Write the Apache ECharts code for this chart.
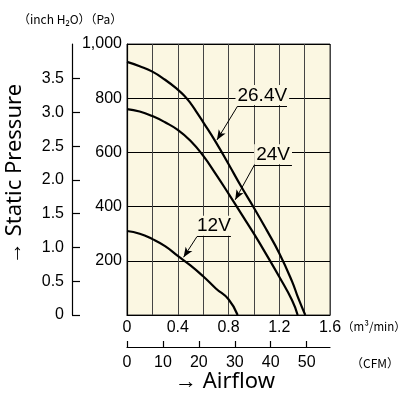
<!DOCTYPE html>
<html>
<head>
<meta charset="utf-8">
<script src="https://cdn.jsdelivr.net/npm/echarts@6/dist/echarts.min.js"></script>
<style>
html,body{margin:0;padding:0;background:#fff;}
#chart{width:404px;height:394px;}
</style>
</head>
<body>
<div id="chart"></div>
<script>
// Airflow (m3/min) vs static pressure (Pa)
const curve264V = [[0,934],[0.1,918],[0.2,898],[0.3,868],[0.4,832],[0.45,810],[0.5,782],[0.55,748],[0.6,712],[0.7,638],[0.8,557],[0.9,474],[1.0,396],[1.1,314],[1.2,228],[1.3,125],[1.35,62],[1.405,0]];
const curve24V  = [[0,760],[0.1,751],[0.2,734],[0.3,711],[0.4,683],[0.5,643],[0.6,588],[0.7,520],[0.8,448],[0.9,374],[1.0,300],[1.1,222],[1.2,141],[1.3,55],[1.345,0]];
const curve12V  = [[0,310],[0.1,300],[0.2,280],[0.3,254],[0.4,218],[0.5,183],[0.6,143],[0.7,98],[0.8,58],[0.872,0]];

// annotation: label text, underline start, underline end, arrow tip (data coords)
const anno264V = ['26.4V', [0.872,771], [1.261,771], [0.709,646]];
const anno24V  = ['24V',   [1.003,553], [1.300,553], [0.853,425]];
const anno12V  = ['12V',   [0.551,289], [0.819,289], [0.446,213]];

const m3Ticks   = [0,0.4,0.8,1.2,1.6];
const m3Labels  = ['0','0.4','0.8','1.2','1.6'];
const cfmTicks  = [0,10,20,30,40,50];
const cfmLabels = ['0','10','20','30','40','50'];
const inchTicks  = [0,0.5,1.0,1.5,2.0,2.5,3.0,3.5];
const inchLabels = ['0','0.5','1.0','1.5','2.0','2.5','3.0','3.5'];
const paLabels = {0:'',200:'200',400:'400',600:'600',800:'800',1000:'1,000'};

const PA_PER_INCH = 249.089;
const CFM_PER_M3 = 35.3147;

const BG = '#fbf7e2';
const NUM_FONT = "'Liberation Sans',sans-serif";
const TXT_FONT = "'Noto Sans','Liberation Sans',sans-serif";
const CJK_FONT = "'Noto Sans CJK JP','Noto Sans',sans-serif";

function annoMarkLine(a){
  return {
    silent: true,
    animation: false,
    symbol: ['none','none'],
    lineStyle: {color:'#000', width:1, type:'solid'},
    label: {show:false},
    data: [
      [{coord:a[1], symbol:'none'}, {coord:a[3], symbol:'arrow', symbolSize:[6,10]}],
      [{coord:a[1], symbol:'none', label:{show:true, position:'insideMiddleTop', formatter:a[0], color:'#000',
         fontFamily:"'Liberation Sans',sans-serif", fontSize:19, backgroundColor:BG, padding:[1,2,0,2], distance:1}},
       {coord:a[2], symbol:'none'}]
    ]
  };
}

function lineSeries(data, anno){
  return {
    type:'line', xAxisIndex:0, yAxisIndex:0, data:data, smooth:0.5,
    showSymbol:false, symbol:'none', animation:false,
    lineStyle:{color:'#000', width:2.2}, itemStyle:{color:'#000'},
    markLine: annoMarkLine(anno)
  };
}

const chart = echarts.init(document.getElementById('chart'), null, {renderer:'canvas'});
chart.setOption({
  backgroundColor:'#fff',
  grid:{left:127, top:44, width:203, height:271, show:true, backgroundColor:BG, borderColor:'#333', borderWidth:1},
  xAxis:[
    {type:'value', gridIndex:0, min:0, max:1.6, interval:0.2, position:'bottom',
     axisLine:{show:true, onZero:false, lineStyle:{color:'#000', width:1.2}}, axisTick:{show:false},
     splitLine:{show:true, lineStyle:{color:'#444', width:1}},
     axisLabel:{customValues:m3Ticks, formatter:v=>m3Labels[m3Ticks.indexOf(Math.round(v*10)/10)], margin:5,
       color:'#000', fontFamily:NUM_FONT, fontSize:16}},
    {type:'value', gridIndex:0, min:0, max:1.6*CFM_PER_M3, position:'bottom', offset:32,
     axisLine:{show:true, onZero:false, lineStyle:{color:'#000', width:1.2}},
     axisTick:{show:true, inside:true, length:6, customValues:cfmTicks, lineStyle:{color:'#000', width:1.2}},
     splitLine:{show:false},
     axisLabel:{customValues:cfmTicks, formatter:v=>cfmLabels[cfmTicks.indexOf(Math.round(v))], margin:8,
       color:'#000', fontFamily:NUM_FONT, fontSize:16}}
  ],
  yAxis:[
    {type:'value', gridIndex:0, min:0, max:1000, interval:200, position:'left',
     axisLine:{show:true, onZero:false, lineStyle:{color:'#000', width:1.2}}, axisTick:{show:false},
     splitLine:{show:true, lineStyle:{color:'#000', width:1}},
     axisLabel:{formatter:v=>paLabels[v], margin:5, color:'#000', fontFamily:NUM_FONT, fontSize:16}},
    {type:'value', gridIndex:0, min:0, max:1000/PA_PER_INCH, position:'left', offset:55,
     axisLine:{show:true, onZero:false, lineStyle:{color:'#000', width:1.2}},
     axisTick:{show:true, inside:true, length:8, customValues:inchTicks, lineStyle:{color:'#000', width:1.2}},
     splitLine:{show:false},
     axisLabel:{customValues:inchTicks, formatter:v=>inchLabels[inchTicks.indexOf(Math.round(v*10)/10)], margin:8,
       color:'#000', fontFamily:NUM_FONT, fontSize:16}}
  ],
  graphic:[
    {type:'text', x:18, y:19, style:{text:'（inch H₂O）（Pa）', fill:'#000', font:"12px "+CJK_FONT, verticalAlign:'middle', align:'left'}},
    {type:'text', x:342, y:327, style:{text:'（m³/min）', fill:'#000', font:"11.5px "+CJK_FONT, verticalAlign:'middle', align:'left'}},
    {type:'text', x:351, y:363, style:{text:'（CFM）', fill:'#000', font:"12px "+CJK_FONT, verticalAlign:'middle', align:'left'}},
    {type:'text', x:15, y:174, rotation:Math.PI/2, style:{text:'→ Static Pressure', fill:'#000', font:"22px "+TXT_FONT, verticalAlign:'middle', align:'center'}},
    {type:'text', x:225, y:382, style:{text:'→ Airflow', fill:'#000', font:"22px "+TXT_FONT, verticalAlign:'middle', align:'center'}}
  ],
  series:[
    lineSeries(curve264V, anno264V),
    lineSeries(curve24V, anno24V),
    lineSeries(curve12V, anno12V)
  ]
});
</script>
</body>
</html>
